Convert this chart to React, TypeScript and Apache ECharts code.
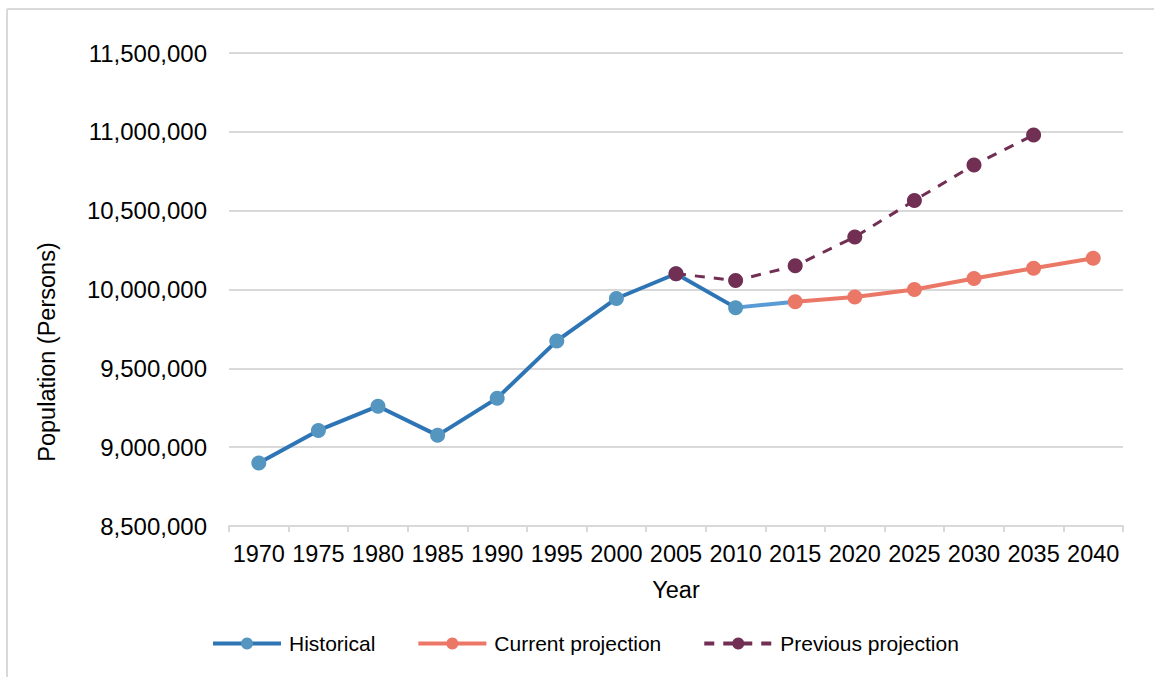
import React, { useEffect, useRef } from "react";
import * as echarts from "echarts";

const years = ["1970", "1975", "1980", "1985", "1990", "1995", "2000", "2005", "2010", "2015", "2020", "2025", "2030", "2035", "2040"];
const historical = [8900000, 9106000, 9260000, 9075000, 9311000, 9674000, 9943000, 10100000, 9885000, null, null, null, null, null, null];
const bridge = [null, null, null, null, null, null, null, null, 9885000, 9923000, null, null, null, null, null];
const currentProjection = [null, null, null, null, null, null, null, null, null, 9923000, 9952000, 10000000, 10070000, 10135000, 10198000];
const previousProjection = [null, null, null, null, null, null, null, 10100000, 10057000, 10150000, 10333000, 10565000, 10790000, 10980000, null];
const yTicks = { min: 8500000, max: 11500000, interval: 500000 };

const FONT = "'Liberation Sans', Arial, sans-serif";

export default function App() {
  const ref = useRef<HTMLDivElement>(null);
  useEffect(() => {
    if (!ref.current) return;
    const chart = echarts.init(ref.current, null, { renderer: "svg" });
    const fmt = (v: number) => v.toLocaleString("en-US");
    chart.setOption({
      animation: false,
      backgroundColor: "#ffffff",
      textStyle: { fontFamily: FONT, color: "#000" },
      grid: { left: 229, right: 31, top: 53, bottom: 151 },
      graphic: [
        { type: "line", shape: { x1: 7, y1: 9, x2: 7, y2: 677 }, style: { stroke: "#d9d9d9", lineWidth: 2 } },
        { type: "line", shape: { x1: 7, y1: 9, x2: 1154, y2: 9 }, style: { stroke: "#d9d9d9", lineWidth: 2 } },
        {
          type: "text",
          x: 47,
          y: 352,
          rotation: Math.PI / 2,
          style: {
            text: "Population (Persons)",
            fontFamily: FONT,
            fontSize: 23.5,
            fill: "#000",
            align: "center",
            verticalAlign: "middle",
          },
        },
      ],
      legend: {
        data: ["Historical", "Current projection", "Previous projection"],
        left: 206,
        top: 628,
        itemWidth: 68,
        itemHeight: 15,
        itemGap: 41,
        lineStyle: { width: 4 },
        textStyle: { fontFamily: FONT, fontSize: 21, color: "#000", padding: [0, 0, 0, 3] },
      },
      xAxis: {
        type: "category",
        data: years,
        boundaryGap: true,
        name: "Year",
        nameLocation: "middle",
        nameGap: 52,
        nameTextStyle: { fontFamily: FONT, fontSize: 23.5, color: "#000" },
        axisLine: { lineStyle: { color: "#d9d9d9", width: 2 } },
        axisTick: { show: true, length: 6, lineStyle: { color: "#d9d9d9", width: 2 } },
        axisLabel: { fontFamily: FONT, fontSize: 23.5, color: "#000", margin: 16, interval: 0 },
      },
      yAxis: {
        type: "value",
        min: yTicks.min,
        max: yTicks.max,
        interval: yTicks.interval,
        axisLine: { show: false },
        axisTick: { show: false },
        splitLine: { lineStyle: { color: "#d9d9d9", width: 2 } },
        axisLabel: { fontFamily: FONT, fontSize: 24, color: "#000", margin: 22, formatter: fmt },
      },
      series: [
        {
          name: "Historical",
          type: "line",
          data: historical,
          symbol: "circle",
          symbolSize: 15,
          lineStyle: { color: "#2E75B6", width: 4 },
          itemStyle: { color: "#5596C0" },
          z: 2,
        },
        {
          name: "bridge",
          type: "line",
          data: bridge,
          showSymbol: false,
          symbol: "none",
          lineStyle: { color: "#5B9BD5", width: 4 },
          itemStyle: { color: "#5B9BD5" },
          z: 1,
        },
        {
          name: "Current projection",
          type: "line",
          data: currentProjection,
          symbol: "circle",
          symbolSize: 15,
          lineStyle: { color: "#EB7767", width: 4 },
          itemStyle: { color: "#EB7767" },
          z: 3,
        },
        {
          name: "Previous projection",
          type: "line",
          data: previousProjection,
          symbol: "circle",
          symbolSize: 15,
          lineStyle: { color: "#722F54", width: 3, type: [10, 9] },
          itemStyle: { color: "#722F54" },
          z: 4,
        },
      ],
    });
    return () => chart.dispose();
  }, []);
  return (
    <div style={{ position: "fixed", left: 0, top: 0, width: 1154, height: 677 }}>
      <div ref={ref} style={{ width: 1154, height: 677 }} />
    </div>
  );
}
